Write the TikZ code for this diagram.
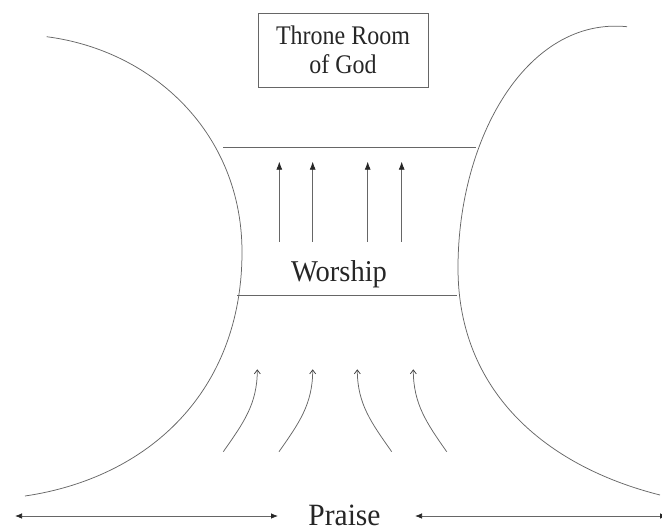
\documentclass[tikz,border=0pt]{standalone}
\usepackage{fontspec}
\setmainfont{Liberation Serif}
\usetikzlibrary{arrows.meta}
\begin{document}
\begin{tikzpicture}[x=1pt,y=-1pt,
  ln/.style={draw=black!60, line width=0.75pt},
  uparrow/.style={ln, -{Latex[length=8pt,width=6pt,color=black!85]}},
  curvearrow/.style={ln, -{Straight Barb[length=4pt,width=6pt,color=black!75]}},
  harrow/.style={ln, {Latex[length=7pt,width=5.5pt,color=black!85]}-{Latex[length=7pt,width=5.5pt,color=black!85]}},
  lbl/.style={inner sep=0pt, text=black!85}]
\useasboundingbox (0,0) rectangle (662,531);

% title box
\node[draw=black!60, line width=0.75pt, minimum width=170pt, minimum height=74pt,
      align=center, inner sep=0pt, text=black!85,
      font=\fontsize{24}{29}\selectfont] (throne) at (343,50)
      {\scalebox{1}[1.12]{Throne Room}\\\scalebox{1}[1.12]{of God}};

% left arc
\coordinate (lt) at (46.7,36.7);
\coordinate (lm) at (242,252);
\coordinate (lb) at (25,496);
\draw[ln] (lt) .. controls (154,50.6) and (242,134) .. (lm)
               .. controls (242,392) and (148,478) .. (lb);
% right arc
\coordinate (rt) at (627,26.7);
\coordinate (rm) at (458,268);
\coordinate (rb) at (660,495);
\draw[ln] (rt) .. controls (527,16.7) and (458,138) .. (rm)
               .. controls (458,391) and (545,466) .. (rb);

% channel lines
\coordinate (tl) at (223,147);
\coordinate (tr) at (476,147);
\coordinate (bl) at (237,295);
\coordinate (br) at (457,295);
\draw[ln] (tl) -- (tr);
\draw[ln] (bl) -- (br);

% worship label
\node[lbl, font=\fontsize{28.5}{34}\selectfont, anchor=base] (worship) at (339,281.7) {\scalebox{1}[1.06]{Worship}};

% straight up arrows
\foreach \i/\x in {1/279.3, 2/312.7, 3/367.7, 4/401.7} {
  \coordinate (va\i) at (\x,241.7);
  \coordinate (vb\i) at (\x,161.7);
  \draw[uparrow] (va\i) -- (vb\i);
}

% curved arrows
\coordinate (c1s) at (223.3,451.7); \coordinate (c1e) at (257.3,369.3);
\coordinate (c2s) at (279,451.7);   \coordinate (c2e) at (312.7,369.3);
\coordinate (c3s) at (391.7,451.7); \coordinate (c3e) at (357.3,369.3);
\coordinate (c4s) at (446.7,451.7); \coordinate (c4e) at (413.3,369.3);
\draw[curvearrow] (c1s) to[out=55,in=-90] (c1e);
\draw[curvearrow] (c2s) to[out=55,in=-90] (c2e);
\draw[curvearrow] (c3s) to[out=125,in=-90] (c3e);
\draw[curvearrow] (c4s) to[out=125,in=-90] (c4e);

% praise label and arrows
\node[lbl, font=\fontsize{29.5}{35}\selectfont, anchor=base] (praise) at (344.5,525) {\scalebox{1}[1.05]{Praise}};
\coordinate (hl1) at (15,516);
\coordinate (hl2) at (278,516);
\coordinate (hr1) at (415,516);
\coordinate (hr2) at (667,516);
\draw[harrow] (hl1) -- (hl2);
\draw[harrow] (hr1) -- (hr2);
\end{tikzpicture}
\end{document}
